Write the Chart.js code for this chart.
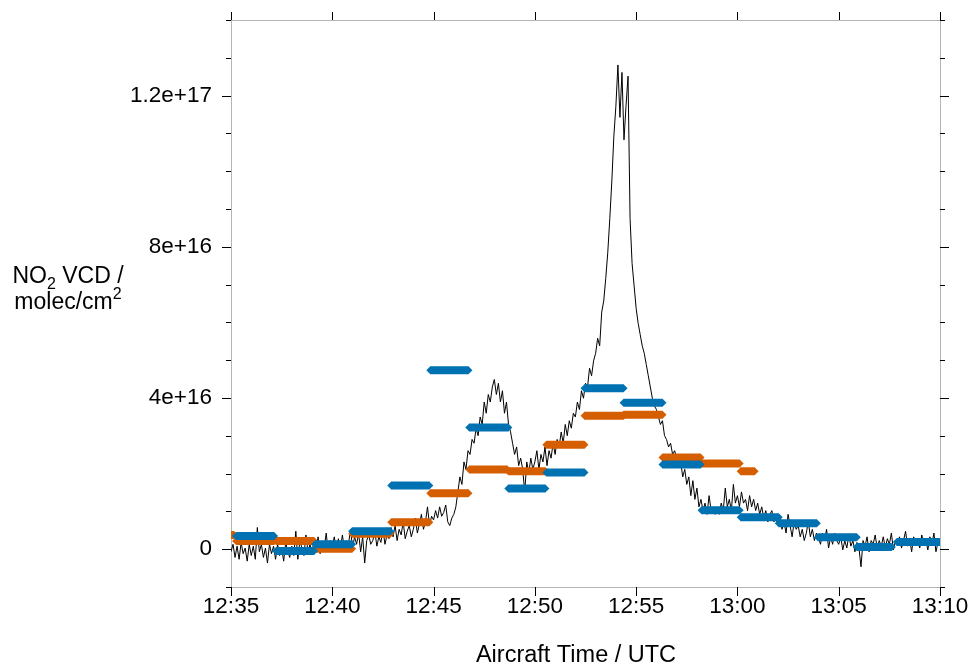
<!DOCTYPE html>
<html>
<head>
<meta charset="utf-8">
<script src="https://cdn.jsdelivr.net/npm/chart.js@4.4.1/dist/chart.umd.min.js"></script>
<style>
    body { margin: 0; background: #fff; }
    canvas { display: block; }
</style>
</head>
<body>
<canvas id="no2Chart" width="971" height="666"></canvas>
<script>
// x axis: minutes after 12:35 UTC
const timeTicks = ['12:35', '12:40', '12:45', '12:50', '12:55', '13:00', '13:05', '13:10'];
const sampleStep = 0.1; // minutes between aircraft samples

// aircraft NO2 VCD, units of 1e16 molec/cm2, one row per minute
const aircraftVcd = [
    -0.1, 0.1, -0.25, 0.05, -0.3, 0.15, -0.15, 0.0, -0.35, 0.1,
    -0.2, 0.05, -0.3, 0.55, -0.1, 0.1, -0.25, 0.0, -0.4, 0.1,
    -0.15, 0.05, -0.3, 0.1, -0.2, 0.0, -0.35, 0.15, -0.1, -0.25,
    0.05, -0.2, 0.45, -0.3, 0.2, 0.0, -0.2, 0.35, -0.1, 0.1,
    -0.1, 0.2, -0.05, 0.3, -0.15, 0.15, 0.0, 0.4, -0.1, 0.2,
    0.05, 0.3, -0.1, 0.25, 0.0, 0.35, -0.05, 0.2, 0.1, 0.5,
    0.0, 0.3, 0.1, 0.4, -0.1, 0.3, -0.4, 0.2, 0.35, 0.1,
    0.2, 0.45, 0.05, 0.3, 0.15, 0.5, 0.1, 0.35, 0.25, 0.55,
    0.3, 0.6, 0.2, 0.5, 0.35, 0.7, 0.25, 0.45, 0.6, 0.3,
    0.5, 0.8, 0.4, 0.65, 0.9, 0.5, 0.7, 1.1, 0.6, 0.85,
    0.75, 1.0, 0.8, 1.1, 0.85, 0.95, 1.15, 0.7, 0.6, 0.8,
    0.9, 1.1, 1.5, 1.9, 1.7, 2.3, 2.1, 2.6, 2.5, 2.9,
    2.8, 3.2, 3.0, 3.5, 3.3, 3.9, 3.6, 4.1, 3.9, 4.3,
    4.5, 4.1, 4.4, 3.9, 4.2, 3.6, 3.9, 3.3, 3.1, 2.8,
    2.5, 2.7, 2.2, 2.4, 2.1, 1.5, 2.3, 2.0, 2.4, 2.1,
    2.3, 2.6, 2.1, 2.5, 2.3, 2.7, 2.2, 2.6, 2.4, 2.8,
    2.5, 2.9, 2.7, 3.1, 2.8, 3.3, 3.0, 3.4, 3.2, 3.6,
    3.5, 3.9, 3.7, 4.2, 4.0, 4.4, 4.3, 4.8, 4.6, 5.0,
    5.2, 5.6, 5.4, 6.3, 6.6, 7.2, 7.9, 8.8, 9.8, 11.0,
    11.8, 12.9, 11.5, 12.7, 10.9, 11.8, 12.6, 8.8, 7.6, 7.0,
    6.4, 6.0, 5.7, 5.4, 5.2, 4.9, 4.6, 4.3, 4.0, 3.8,
    3.7, 3.5, 3.3, 3.4, 3.0, 2.9, 2.7, 2.8, 2.5, 2.6,
    2.4, 2.2, 2.3, 1.9, 2.1, 1.7, 1.9, 1.4, 1.8, 1.3,
    1.6, 1.1, 1.3, 1.0, 1.2, 0.9, 1.4, 1.0, 1.1, 0.9,
    1.1, 0.9, 1.2, 1.0, 1.6, 1.1, 1.3, 1.0, 1.7, 1.2,
    1.4, 1.1, 1.5, 1.2, 1.3, 1.0, 1.4, 1.1, 1.3, 1.0,
    1.2, 0.9, 1.1, 0.8, 1.0, 0.7, 0.9, 1.0, 0.7, 0.8,
    0.6, 0.8, 0.5, 0.7, 0.4, 0.9, 0.6, 0.3, 0.7, 0.5,
    0.6, 0.3, 0.5, 0.2, 0.4, 0.7, 0.3, 0.5, 0.2, 0.4,
    0.3, 0.1, 0.4, 0.2, 0.5, 0.0, 0.3, 0.1, 0.4, 0.2,
    0.1, 0.3, -0.05, 0.2, 0.0, 0.35, 0.05, 0.2, -0.1, 0.15,
    0.0, -0.5, 0.2, 0.05, 0.3, -0.1, 0.2, 0.1, 0.35, 0.0,
    0.2, 0.05, 0.3, 0.0, 0.25, 0.1, 0.4, -0.05, 0.2, 0.1,
    0.3, 0.0, 0.2, 0.45, 0.05, 0.25, -0.1, 0.3, 0.1, 0.2,
    0.0, 0.35, 0.1, 0.2, -0.05, 0.3, 0.1, 0.4, -0.1, 0.15,
    0.1
];

// blue averaged segments (start / end minute, VCD in 1e16)
const blueStart = [0.25, 2.22, 4.15, 5.98, 7.91, 9.84, 11.76, 13.69, 15.57, 17.45, 19.38, 21.30, 23.23, 25.16, 27.04, 28.97, 30.89, 32.87];
const blueEnd   = [2.13, 4.10, 5.98, 7.86, 9.79, 11.72, 13.69, 15.52, 17.45, 19.38, 21.30, 23.18, 25.11, 27.04, 28.92, 30.89, 32.62, 35.3];
const blueVcd   = [0.32, -0.08, 0.10, 0.45, 1.67, 4.75, 3.22, 1.59, 2.02, 4.27, 3.88, 2.23, 1.01, 0.82, 0.66, 0.29, 0.03, 0.16];

// orange averaged segments
const orangeStart = [-1.7, 0.25, 2.22, 4.15, 5.98, 7.91, 9.84, 11.76, 13.69, 15.57, 17.45, 19.38, 21.30, 23.23, 25.16];
const orangeEnd   = [0.15, 2.13, 4.10, 5.98, 7.86, 9.79, 11.72, 13.64, 15.52, 17.45, 19.38, 21.30, 23.18, 25.11, 25.85];
const orangeVcd   = [0.35, 0.19, 0.19, -0.02, 0.38, 0.69, 1.46, 2.10, 2.05, 2.76, 3.53, 3.56, 2.42, 2.26, 2.05];

const yMin = -1.04e16;
const yMax = 1.41e17;

function segmentPoints(starts, ends, vals) {
    const pts = [];
    starts.forEach((s, i) => {
        const v = vals[i] * 1e16;
        pts.push({ x: s, y: v }, { x: ends[i], y: v }, { x: ends[i], y: null });
    });
    return pts;
}

function segmentDataset(starts, ends, vals, color, order) {
    return {
        data: segmentPoints(starts, ends, vals),
        borderColor: color,
        backgroundColor: color,
        borderWidth: 8,
        borderCapStyle: 'butt',
        pointStyle: 'rectRot',
        pointRadius: 4,
        pointBorderWidth: 0,
        pointBackgroundColor: color,
        spanGaps: false,
        clip: 0,
        order: order
    };
}

// fixed axis box sizes, no extra label padding round the plot
function fixSize(prop, size) {
    return s => {
        s[prop] = size;
        s.paddingTop = s.paddingBottom = s.paddingLeft = s.paddingRight = 0;
    };
}

// tick marks round the frame plus the axis titles
const frameTicks = {
    id: 'frameTicks',
    afterDraw(chart) {
        const { ctx, chartArea: a, scales: { x, y } } = chart;
        ctx.save();
        ctx.strokeStyle = '#000';
        ctx.lineWidth = 1;
        ctx.beginPath();
        x.ticks.forEach(t => {
            const px = Math.round(x.getPixelForValue(t.value)) + 0.5;
            ctx.moveTo(px, a.bottom); ctx.lineTo(px, a.bottom + 9);
            ctx.moveTo(px, a.top); ctx.lineTo(px, a.top - 8);
        });
        y.ticks.forEach(t => {
            const n = Math.round(t.value / 1e16);
            const py = Math.round(y.getPixelForValue(t.value)) + 0.5;
            const len = n % 4 === 0 ? 9 : 5;
            ctx.moveTo(a.left - len, py); ctx.lineTo(a.left, py);
            ctx.moveTo(a.right, py); ctx.lineTo(a.right + len, py);
        });
        ctx.stroke();

        ctx.fillStyle = '#000';
        ctx.textBaseline = 'alphabetic';
        const big = '23px "Liberation Sans", Arial, sans-serif';
        const small = '16px "Liberation Sans", Arial, sans-serif';

        // x title
        ctx.font = '23.5px "Liberation Sans", Arial, sans-serif';
        ctx.textAlign = 'center';
        ctx.fillText('Aircraft Time / UTC', 576, 662);

        // y title, two lines with sub/superscript
        ctx.textAlign = 'left';
        const cx = 68;
        ctx.font = big;
        const w1a = ctx.measureText('NO').width;
        const w1c = ctx.measureText(' VCD /').width;
        ctx.font = small;
        const w1b = ctx.measureText('2').width;
        let x0 = cx - (w1a + w1b + w1c) / 2;
        ctx.font = big;
        ctx.fillText('NO', x0, 283);
        ctx.font = small;
        ctx.fillText('2', x0 + w1a, 289);
        ctx.font = big;
        ctx.fillText(' VCD /', x0 + w1a + w1b, 283);

        const w2a = ctx.measureText('molec/cm').width;
        ctx.font = small;
        const w2b = ctx.measureText('2').width;
        x0 = cx - (w2a + w2b) / 2;
        ctx.font = big;
        ctx.fillText('molec/cm', x0, 309);
        ctx.font = small;
        ctx.fillText('2', x0 + w2a, 299);
        ctx.restore();
    }
};

Chart.defaults.font.family = '"Liberation Sans", Arial, sans-serif';
Chart.defaults.font.size = 22.5;
Chart.defaults.color = '#000';

const frameBorder = { display: true, color: '#b5b5b5', width: 1 };
const noGrid = { drawOnChartArea: false, drawTicks: false };

const ctx = document.getElementById('no2Chart').getContext('2d');
new Chart(ctx, {
    type: 'line',
    data: {
        datasets: [
            segmentDataset(blueStart, blueEnd, blueVcd, '#0072B2', 1),
            segmentDataset(orangeStart, orangeEnd, orangeVcd, '#D55E00', 2),
            {
                data: aircraftVcd.map((v, i) => ({ x: i * sampleStep, y: v * 1e16 })),
                borderColor: '#000',
                borderWidth: 1,
                pointRadius: 0,
                tension: 0,
                order: 3
            }
        ]
    },
    options: {
        responsive: false,
        animation: false,
        layout: { padding: 0, autoPadding: false },
        plugins: {
            legend: { display: false },
            tooltip: { enabled: false }
        },
        scales: {
            x: {
                type: 'linear',
                position: 'bottom',
                min: 0,
                max: 35,
                grid: noGrid,
                border: frameBorder,
                ticks: {
                    stepSize: 5,
                    padding: 6,
                    maxRotation: 0,
                    callback: v => timeTicks[Math.round(v / 5)]
                },
                afterFit: fixSize('height', 79)
            },
            xTop: {
                type: 'linear',
                position: 'top',
                min: 0,
                max: 35,
                grid: noGrid,
                border: frameBorder,
                ticks: { display: false },
                afterFit: fixSize('height', 20)
            },
            y: {
                type: 'linear',
                position: 'left',
                min: yMin,
                max: yMax,
                grid: noGrid,
                border: frameBorder,
                ticks: {
                    stepSize: 1e16,
                    includeBounds: false,
                    padding: 19,
                    autoSkip: false,
                    callback: v => {
                        const n = Math.round(v / 1e16);
                        if (n % 4 !== 0) return '';
                        return n === 0 ? '0' : (n * 1e16).toExponential();
                    }
                },
                afterFit: fixSize('width', 231)
            },
            yRight: {
                type: 'linear',
                position: 'right',
                min: yMin,
                max: yMax,
                grid: noGrid,
                border: frameBorder,
                ticks: { display: false },
                afterFit: fixSize('width', 31)
            }
        }
    },
    plugins: [frameTicks]
});
</script>
</body>
</html>
